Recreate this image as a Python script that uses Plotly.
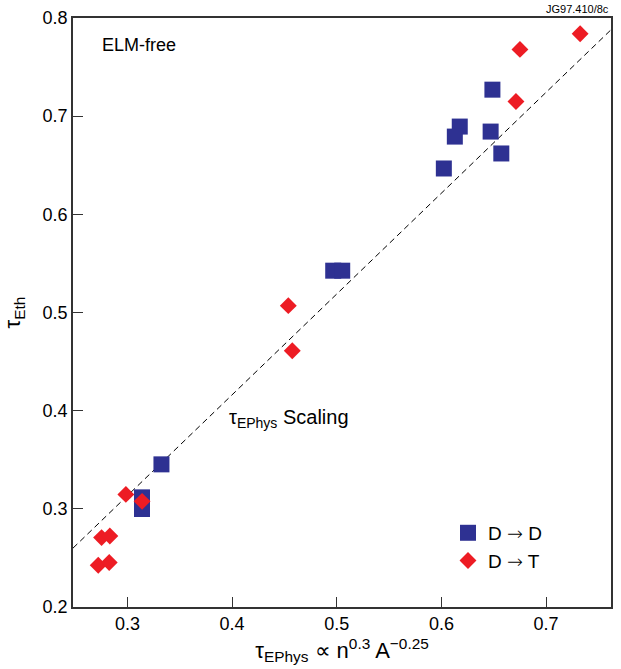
import plotly.graph_objects as go

# D -> D (blue squares)
dd_x = [0.6487, 0.6175, 0.6128, 0.6470, 0.6572, 0.6023, 0.4966, 0.5052, 0.3325, 0.3139, 0.3139]
dd_y = [0.727, 0.6894, 0.6792, 0.6843, 0.662, 0.6467, 0.5426, 0.5426, 0.3453, 0.3117, 0.2998]

# D -> T (red diamonds)
dt_x = [0.7325, 0.675, 0.6712, 0.4537, 0.4575, 0.314, 0.2985, 0.2753, 0.2832, 0.2721, 0.2826]
dt_y = [0.784, 0.768, 0.7149, 0.507, 0.461, 0.3076, 0.3147, 0.2707, 0.2723, 0.2425, 0.2453]

# scaling line
line_x = [0.248, 0.762]
line_y = [0.260, 0.788]

x_ticks = [0.3, 0.4, 0.5, 0.6, 0.7]
y_ticks = [0.2, 0.3, 0.4, 0.5, 0.6, 0.7, 0.8]

FONT = "Liberation Sans, Arial, sans-serif"
BLUE = "#2E3192"
RED = "#ED1C24"
ARROW = "<span style='font-family:DejaVu Sans; font-weight:200'>\u2192</span>"

fig = go.Figure()
fig.add_trace(go.Scatter(x=line_x, y=line_y, mode="lines",
                         line=dict(color="black", width=1, dash="6px,4px"),
                         showlegend=False, hoverinfo="skip"))
fig.add_trace(go.Scatter(x=dd_x, y=dd_y, mode="markers", name="D " + ARROW + " D",
                         marker=dict(symbol="square", size=16, color=BLUE)))
fig.add_trace(go.Scatter(x=dt_x, y=dt_y, mode="markers", name="D " + ARROW + " T",
                         marker=dict(symbol="diamond", size=13, color=RED)))

axis_common = dict(showline=True, mirror=True, linecolor="#333333", linewidth=1.5,
                   ticks="inside", ticklen=10, tickwidth=1, tickcolor="#333333",
                   showgrid=False, zeroline=False,
                   tickfont=dict(family=FONT, size=18, color="black"))

fig.update_xaxes(range=[0.248, 0.762], tickvals=x_ticks,
                 ticktext=[f"{v:.1f}" for v in x_ticks],
                 title=dict(text="\u03c4<sub>EPhys</sub> \u221d n<sup>0.3</sup> A<sup>\u22120.25</sup>",
                            font=dict(family=FONT, size=22, color="black"), standoff=9),
                 **axis_common)
fig.update_yaxes(range=[0.2, 0.8], tickvals=y_ticks,
                 ticktext=[f"{v:.1f}" for v in y_ticks],
                 title=dict(text="\u03c4<sub>Eth</sub>",
                            font=dict(family=FONT, size=22, color="black"), standoff=17),
                 **axis_common)

fig.add_annotation(text="ELM-free", xref="paper", yref="paper", x=0.05, y=0.955,
                   xanchor="left", yanchor="middle", showarrow=False,
                   font=dict(family=FONT, size=18, color="black"))
fig.add_annotation(text="\u03c4<sub>EPhys</sub> Scaling", x=0.3956, y=0.392,
                   xanchor="left", yanchor="middle", showarrow=False,
                   font=dict(family=FONT, size=20, color="black"))
fig.add_annotation(text="JG97.410/8c", xref="paper", yref="paper", x=1.0, y=1.0,
                   xanchor="right", yanchor="bottom", yshift=1, showarrow=False,
                   font=dict(family=FONT, size=11, color="black"))

fig.update_layout(
    width=621, height=669,
    margin=dict(l=73, r=8, t=17, b=62),
    paper_bgcolor="white", plot_bgcolor="white",
    legend=dict(x=0.697, y=0.158, xanchor="left", yanchor="top",
                bgcolor="rgba(0,0,0,0)", font=dict(family=FONT, size=19, color="black"),
                itemwidth=30, tracegroupgap=0),
    font=dict(family=FONT),
)

fig.write_html("out.html")
